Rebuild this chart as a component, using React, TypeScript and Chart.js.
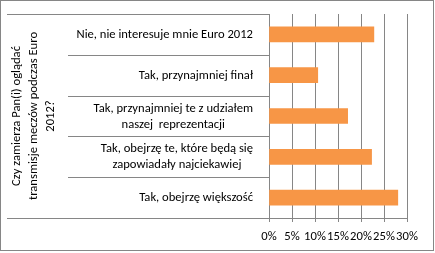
import React, { useEffect, useRef } from "react";
import { Chart, registerables } from "chart.js";

Chart.register(...registerables);

const categories: string[][] = [
  ["Nie, nie interesuje mnie Euro 2012"],
  ["Tak, przynajmniej finał"],
  ["Tak, przynajmniej te z udziałem", "naszej  reprezentacji"],
  ["Tak, obejrzę te, które będą się", "zapowiadały najciekawiej"],
  ["Tak, obejrzę większość"],
];
const values: number[] = [22.8, 10.6, 17.1, 22.3, 28.0];
const xTicks: number[] = [0, 5, 10, 15, 20, 25, 30];
const axisTitle: string[] = [
  "Czy zamierza Pan(i) oglądać",
  "transmisje meczów podczas Euro",
  "2012?",
];

const FONT = "Carlito, Lato, 'Liberation Sans', sans-serif";
const FS = 12.6;
const GRID = "#868686";
const LABEL_COL = 201;

const customPlugin = {
  id: "custom",
  afterDraw(chart: any) {
    const ctx = chart.ctx;
    const y = chart.scales.y;
    const area = chart.chartArea;
    ctx.save();
    ctx.strokeStyle = GRID;
    ctx.lineWidth = 1;
    const n = categories.length;
    for (let i = 0; i <= n; i++) {
      const py = Math.round(y.getPixelForValue(i - 0.5)) + 0.5;
      const x0 = i === 0 || i === n ? y.left : area.left - LABEL_COL;
      ctx.beginPath();
      ctx.moveTo(x0, py);
      ctx.lineTo(area.left, py);
      ctx.stroke();
    }
    // labels: block right-aligned, lines centered within block
    ctx.fillStyle = "#000";
    ctx.font = `${FS}px ${FONT}`;
    ctx.textBaseline = "middle";
    ctx.textAlign = "center";
    const lh = 16;
    const right = area.left - 16;
    categories.forEach((lines, i) => {
      const w = Math.max(...lines.map((l) => ctx.measureText(l).width));
      const cx = right - w / 2;
      const cy = y.getPixelForValue(i) + 0.5;
      lines.forEach((l, j) => {
        ctx.fillText(l, cx, cy + (j - (lines.length - 1) / 2) * lh);
      });
    });
    // outer border
    ctx.strokeStyle = GRID;
    ctx.strokeRect(0.5, 0.5, 433, 250);
    ctx.restore();
  },
};

export default function App() {
  const ref = useRef<HTMLCanvasElement>(null);
  useEffect(() => {
    const chart = new Chart(ref.current!, {
      type: "bar",
      data: {
        labels: categories.map((c) => c.join(" ")),
        datasets: [
          {
            data: values,
            backgroundColor: "#F79646",
            barThickness: 15,
          },
        ],
      },
      options: {
        animation: false,
        responsive: false,
        indexAxis: "y",
        layout: { padding: { left: 7, top: 14, right: 28, bottom: 0 } },
        plugins: { legend: { display: false }, tooltip: { enabled: false } },
        scales: {
          x: {
            min: 0,
            max: 30,
            afterBuildTicks: (s: any) => {
              s.ticks = xTicks.map((v) => ({ value: v }));
            },
            afterFit: (s: any) => {
              s.height = 35;
            },
            ticks: {
              callback: (v: any) => `${v}%`,
              color: "#000",
              font: { family: FONT, size: FS },
              padding: 7,
              maxRotation: 0,
              autoSkip: false,
            },
            grid: { color: GRID, tickLength: 4, drawOnChartArea: true },
            border: { color: GRID },
          },
          y: {
            afterFit: (s: any) => {
              s.width = 262;
            },
            ticks: { display: false },
            grid: { display: false },
            border: { color: GRID },
            title: {
              display: true,
              text: axisTitle,
              color: "#000",
              font: { family: FONT, size: FS, lineHeight: 1.32 },
              padding: { top: 2, bottom: 0 },
            },
          },
        },
      },
      plugins: [customPlugin],
    });
    return () => chart.destroy();
  }, []);
  return (
    <div style={{ position: "fixed", left: 0, top: 0, width: 435, height: 253, background: "#fff" }}>
      <canvas ref={ref} width={435} height={253} />
    </div>
  );
}
